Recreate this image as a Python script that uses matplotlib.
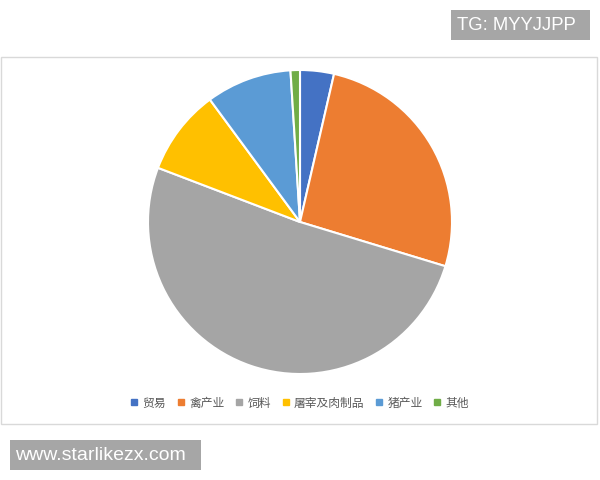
import matplotlib
matplotlib.use("Agg")
import matplotlib.pyplot as plt
from matplotlib.patches import Rectangle
from matplotlib.lines import Line2D

plt.rcParams['font.family'] = ['Noto Sans CJK SC', 'DejaVu Sans']

categories = ['贸易', '禽产业', '饲料', '屠宰及肉制品', '猪产业', '其他']
values = [3.6, 26.1, 51.1, 9.1, 9.1, 1.0]
colors = ['#4472C4', '#ED7D31', '#A5A5A5', '#FFC000', '#5B9BD5', '#70AD47']

W, H = 600, 480
fig = plt.figure(figsize=(6, 4.8), dpi=100)
fig.patch.set_facecolor('white')

def px_rect(x0, y0, x1, y1, **kw):
    return Rectangle((x0 / W, 1 - y1 / H), (x1 - x0) / W, (y1 - y0) / H,
                     transform=fig.transFigure, **kw)

# chart frame
fig.patches.append(px_rect(1, 57, 597, 424, fill=False,
                           edgecolor='#d9d9d9', linewidth=1.0))

cx, cy, r = 300, 222, 152
ax = fig.add_axes([(cx - r) / W, (H - cy - r) / H, 2 * r / W, 2 * r / H])
ax.pie(values, colors=colors, startangle=90, counterclock=False,
       wedgeprops=dict(edgecolor='white', linewidth=1.5), radius=1)
ax.set_xlim(-1, 1)
ax.set_ylim(-1, 1)
ax.axis('off')

handles = [Line2D([], [], marker='s', linestyle='none', markersize=4,
                  markerfacecolor=c, markeredgecolor=c) for c in colors]
fig.legend(handles, categories, loc='center', bbox_to_anchor=(0.5, 1 - 403 / H),
           ncol=6, frameon=False, fontsize=8.5, handlelength=0.6,
           handletextpad=0.4, columnspacing=0.95, labelcolor='#595959')

# watermarks
fig.patches.append(px_rect(451, 10, 590, 40, facecolor='#a6a6a6', edgecolor='none'))
fig.text(457 / W, 1 - 25.5 / H, 'TG: MYYJJPP', color='white', fontsize=13.3,
         family='Liberation Sans', va='center', ha='left')
fig.patches.append(px_rect(10, 440, 201, 470, facecolor='#a6a6a6', edgecolor='none'))
fig.text(15 / W, 1 - 455.5 / H, 'www.starlikezx.com', color='white', fontsize=14,
         family='Liberation Sans', va='center', ha='left')

fig.savefig('out.png', dpi=100)
